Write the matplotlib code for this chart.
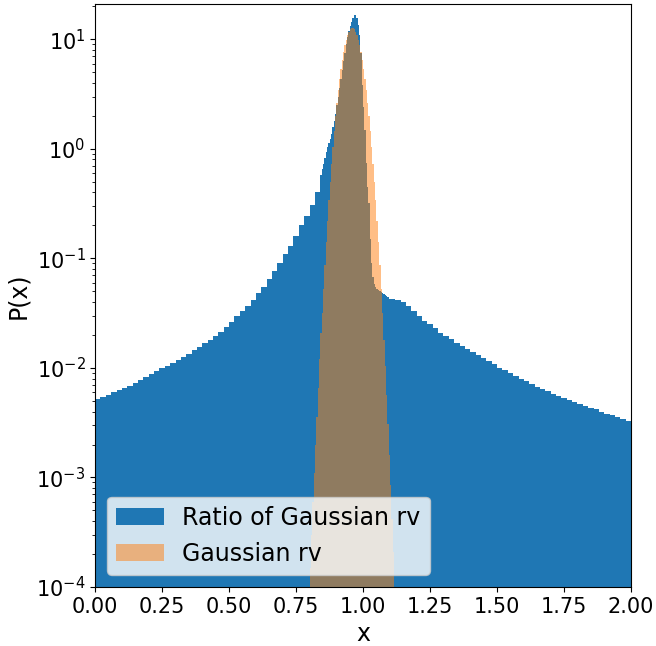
import numpy as np
import matplotlib
matplotlib.use('Agg')
import matplotlib.pyplot as plt

# Ratio of Gaussian rv: density, three stretches
# 0.00 - 0.84 in 0.02 bins
ratio_left = [0.0052, 0.0054, 0.0057, 0.0060, 0.0063, 0.0066, 0.0069, 0.0073,
              0.0077, 0.0083, 0.0088, 0.0093, 0.0099, 0.0105, 0.0111, 0.0118,
              0.0126, 0.0135, 0.0145, 0.0156, 0.0168, 0.0181, 0.0196, 0.0215,
              0.0237, 0.0263, 0.0295, 0.033, 0.037, 0.042, 0.048, 0.055,
              0.065, 0.077, 0.091, 0.110, 0.130, 0.160, 0.200, 0.245,
              0.31, 0.40]
# 0.84 - 1.10 in 0.005 bins
ratio_peak = [0.58, 0.65, 0.73, 0.83, 0.93, 1.03, 1.12, 1.22, 1.38, 1.57,
              1.80, 2.10, 2.5, 3.0, 3.6, 4.3, 5.2, 6.3, 7.5, 9.0,
              10.5, 12.0, 13.3, 14.5, 15.6, 16.5, 16.8, 15.5, 13.5, 11.0,
              7.5, 3.8, 2.4, 1.5, 0.75, 0.45, 0.32, 0.15, 0.09, 0.068,
              0.058, 0.055, 0.052, 0.051, 0.050, 0.049, 0.048, 0.047, 0.046, 0.045,
              0.044, 0.043]
# 1.10 - 2.00 in 0.02 bins
ratio_right = [0.043, 0.042, 0.040, 0.037, 0.033, 0.030, 0.027, 0.025, 0.023,
               0.021, 0.0195, 0.0183, 0.0170, 0.0160, 0.0150, 0.0141, 0.0131,
               0.0123, 0.0115, 0.0108, 0.0100, 0.0095, 0.0090, 0.0085, 0.0080,
               0.0076, 0.0071, 0.0067, 0.0064, 0.0061, 0.0058, 0.0056, 0.0053,
               0.0051, 0.0049, 0.0047, 0.0045, 0.0043, 0.0042, 0.0040, 0.0038,
               0.0037, 0.0036, 0.0034, 0.0033]

# Gaussian rv: 0.80 - 1.12 in 0.005 bins
gauss = [1.5e-4, 3e-4, 6e-4, 1.1e-3, 2.0e-3, 3.6e-3, 6.5e-3, 0.012, 0.021, 0.032,
         0.053, 0.087, 0.140, 0.22, 0.34, 0.50, 0.73, 1.04, 1.46, 1.98,
         2.63, 3.42, 4.33, 5.36, 6.47, 7.64, 8.81, 9.92, 10.9, 11.7,
         12.3, 12.6, 12.6, 12.3, 11.7, 10.9, 9.92, 8.81, 7.64, 6.47,
         5.36, 4.33, 3.42, 2.63, 1.98, 1.46, 1.04, 0.73, 0.50, 0.34,
         0.22, 0.140, 0.087, 0.053, 0.032, 0.018, 0.0104, 5.7e-3, 3.1e-3, 1.6e-3,
         8.5e-4, 4.2e-4, 2.1e-4, 1.0e-4]

ratio_edges = np.concatenate([np.linspace(0.0, 0.84, len(ratio_left) + 1)[:-1],
                              np.linspace(0.84, 1.10, len(ratio_peak) + 1)[:-1],
                              np.linspace(1.10, 2.00, len(ratio_right) + 1)])
ratio_vals = np.array(ratio_left + ratio_peak + ratio_right)
gauss_edges = np.linspace(0.80, 0.80 + 0.005 * len(gauss), len(gauss) + 1)
gauss_vals = np.array(gauss)

fig = plt.figure(figsize=(6.56, 6.46), dpi=100)
ax = fig.add_axes([0.145, 0.0913, 0.817, 0.9025])

ax.hist(0.5 * (ratio_edges[1:] + ratio_edges[:-1]), bins=ratio_edges,
        weights=ratio_vals, color='C0', label='Ratio of Gaussian rv')
ax.hist(0.5 * (gauss_edges[1:] + gauss_edges[:-1]), bins=gauss_edges,
        weights=gauss_vals, color='C1', alpha=0.5, label='Gaussian rv')

ax.set_yscale('log')
ax.set_xlim(0, 2)
ax.set_ylim(1e-4, 21)
ax.set_xticks(np.arange(0, 2.01, 0.25))
ax.tick_params(labelsize=15)
ax.set_xlabel('x', fontsize=17)
ax.set_ylabel('P(x)', fontsize=17)
ax.legend(loc='lower left', fontsize=17)

fig.savefig('out.png', dpi=100)
